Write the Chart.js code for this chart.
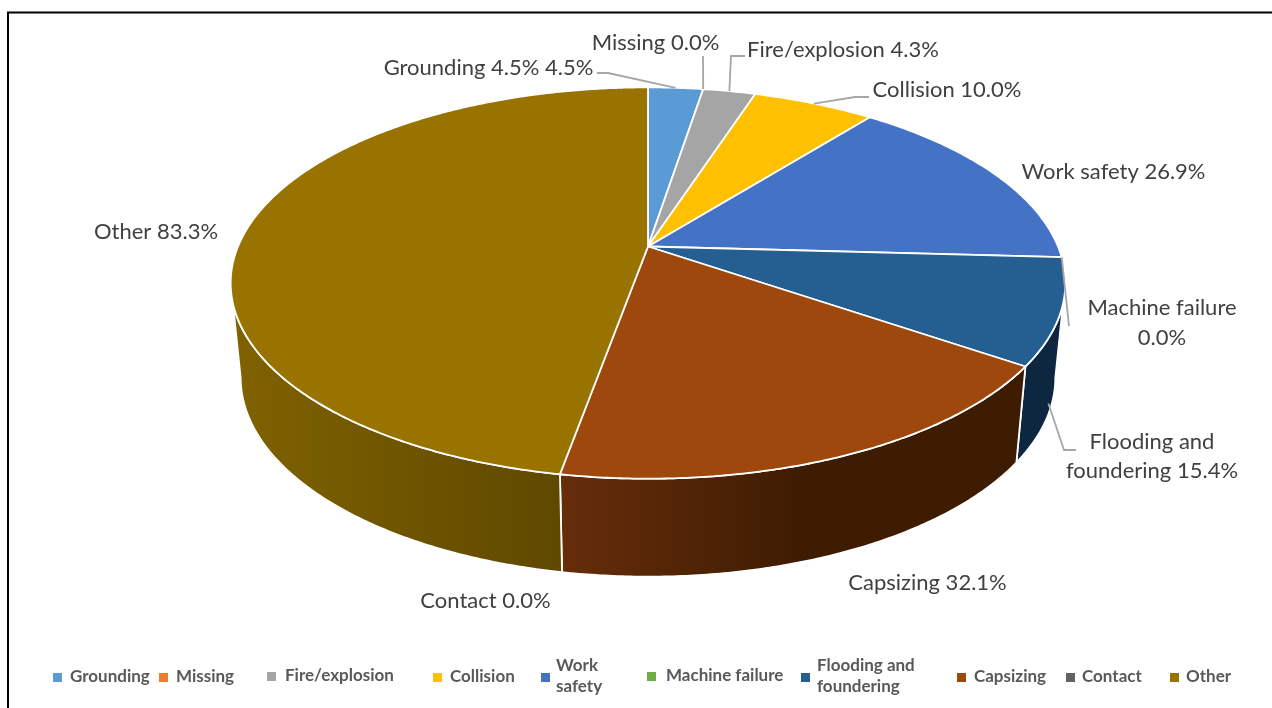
<!DOCTYPE html>
<html>
<head>
<meta charset="utf-8">
<style>html,body{margin:0;padding:0;background:#fff}canvas{display:block}</style>
<script src="https://cdn.jsdelivr.net/npm/chart.js@4/dist/chart.umd.js"></script>
</head>
<body>
<canvas id="c" width="1272" height="708"></canvas>
<script>
// ---- data ----
const categories = ['Grounding','Missing','Fire/explosion','Collision','Work safety','Machine failure','Flooding and foundering','Capsizing','Contact','Other'];
const percentValues = [4.5,0.0,4.3,10.0,26.9,0.0,15.4,32.1,0.0,83.3];
const sliceColors = ['#5b9bd5','#ed7d31','#a5a5a5','#ffc000','#4472c4','#70ad47','#255e91','#9e480e','#636363','#997300'];

// ---- layout / styles (not data) ----
const wallStyles = {
  'Flooding and foundering': [1016,'#0d2740',1064,'#0d2740'],
  'Capsizing': [562,'#662d0a',800,'#3e1c02'],
  'Other': [233,'#806200',560,'#5f4800']
};
const labelFont = '22px Lato';
const labelColor = '#404040';
const sliceLabels = [
  {lines:['Grounding 4.5% 4.5%'],x:488.5,y:[68]},
  {lines:['Missing 0.0%'],x:655.5,y:[43]},
  {lines:['Fire/explosion 4.3%'],x:843,y:[50]},
  {lines:['Collision 10.0%'],x:947,y:[90]},
  {lines:['Work safety 26.9%'],x:1113.5,y:[172]},
  {lines:['Machine failure','0.0%'],x:1162,y:[308,338]},
  {lines:['Flooding and','foundering 15.4%'],x:1152,y:[442,471]},
  {lines:['Capsizing 32.1%'],x:927.5,y:[583]},
  {lines:['Contact 0.0%'],x:485.5,y:[601]},
  {lines:['Other 83.3%'],x:156,y:[232]}
];
const leaderColor = '#a6a6a6';
// path: elbow points from the slice towards its label; wall = position down the side wall
const leaders = {
  0:{path:[[608,73],[597,73]]},
  1:{path:[[703,56]]},
  2:{path:[[731,56],[745,56]]},
  3:{path:[[855,97],[869,97]]},
  5:{path:[[1069,326]]},
  6:{wall:0.85,at:112,path:[[1064,450],[1076,450]]}
};
const legendEntries = [
  {sq:53,tx:70,lines:['Grounding'],y:[677]},
  {sq:159,tx:176,lines:['Missing'],y:[677]},
  {sq:267,tx:285,lines:['Fire/explosion'],y:[676]},
  {sq:433,tx:450,lines:['Collision'],y:[677]},
  {sq:541,tx:556,lines:['Work','safety'],y:[666,687],sqY:677},
  {sq:647,tx:666,lines:['Machine failure'],y:[676]},
  {sq:801,tx:817,lines:['Flooding and','foundering'],y:[666,687],sqY:677},
  {sq:957,tx:974,lines:['Capsizing'],y:[677]},
  {sq:1066,tx:1082,lines:['Contact'],y:[677]},
  {sq:1170,tx:1186,lines:['Other'],y:[677]}
];

// ---- perspective projection of the pie disc: t = clockwise degrees from 12 o'clock, z = 0 top, 1 bottom ----
const P = {cx:648, c:410, p:-0.1867, a:142.8, b:246.5, cShrink:0.024, aDrop:14.3, bDrop:94};
function project(t, z, r){
  r = r === undefined ? 1 : r;
  const rad = t*Math.PI/180, u = r*Math.sin(rad), v = -r*Math.cos(rad);
  const w = 1 + P.p*v;
  return [P.cx + P.c*(1-P.cShrink*z)*u/w, ((P.a-P.aDrop*z)*v + P.b + P.bDrop*z)/w];
}
const toDeg = a => (a + Math.PI/2)*180/Math.PI;
const VIS = {topR:106.6, topL:253.4, botR:100.8, botL:259.2};

// each arc element draws itself through the perspective projection
const ArcProto = Chart.registry.getElement('arc').prototype;
ArcProto.draw = function(ctx){
  const t0 = toDeg(this.startAngle), t1 = toDeg(this.endAngle);
  if (t1 - t0 < 1e-6) return;
  const o = this.options;
  ctx.save();
  ctx.beginPath();
  const c = project(0,0,0);
  ctx.moveTo(c[0],c[1]);
  for (let t=t0;;t+=0.5){
    const q = project(Math.min(t,t1),0);
    ctx.lineTo(q[0],q[1]);
    if (t>=t1) break;
  }
  ctx.closePath();
  ctx.fillStyle = o.backgroundColor;
  ctx.fill();
  ctx.strokeStyle = o.borderColor;
  ctx.lineWidth = o.borderWidth;
  ctx.lineJoin = 'round';
  ctx.stroke();
  ctx.restore();
};

const pie3d = {
  id:'pie3d',
  beforeDraw(chart){
    const ctx = chart.ctx;
    ctx.save();
    ctx.fillStyle = '#fff';
    ctx.fillRect(0,0,chart.width,chart.height);
    ctx.strokeStyle = '#000';
    ctx.lineWidth = 2;
    ctx.beginPath();
    ctx.moveTo(8,chart.height);
    ctx.lineTo(8,12.5);
    ctx.lineTo(chart.width,12.5);
    ctx.stroke();
    ctx.restore();
  },
  beforeDatasetsDraw(chart){
    const ctx = chart.ctx;
    const arcs = chart.getDatasetMeta(0).data;
    arcs.forEach((arc,i)=>{
      const style = wallStyles[categories[i]];
      if (!style) return;
      const t0 = toDeg(arc.startAngle), t1 = toDeg(arc.endAngle);
      const ta = Math.max(t0,VIS.topR), tb = Math.min(t1,VIS.topL);
      const ba = Math.max(t0,VIS.botR), bb = Math.min(t1,VIS.botL);
      ctx.save();
      ctx.beginPath();
      for (let t=ta;;t+=0.5){
        const q = project(Math.min(t,tb),0);
        ctx.lineTo(q[0],q[1]);
        if (t>=tb) break;
      }
      for (let t=bb;;t-=0.5){
        const q = project(Math.max(t,ba),1);
        ctx.lineTo(q[0],q[1]);
        if (t<=ba) break;
      }
      ctx.closePath();
      const g = ctx.createLinearGradient(style[0],0,style[2],0);
      g.addColorStop(0,style[1]);
      g.addColorStop(1,style[3]);
      ctx.fillStyle = g;
      ctx.fill();
      ctx.strokeStyle = '#fff';
      ctx.lineWidth = 1.8;
      ctx.lineJoin = 'round';
      ctx.stroke();
      ctx.restore();
    });
  },
  afterDatasetsDraw(chart){
    const ctx = chart.ctx;
    const arcs = chart.getDatasetMeta(0).data;
    ctx.save();
    // leader lines
    ctx.strokeStyle = leaderColor;
    ctx.lineWidth = 1.8;
    Object.keys(leaders).forEach(k=>{
      const l = leaders[k], arc = arcs[k];
      const t0 = toDeg(arc.startAngle), t1 = toDeg(arc.endAngle);
      let s;
      if (l.wall !== undefined){
        const a = project(l.at,0), b = project(l.at,1);
        s = [a[0]+(b[0]-a[0])*l.wall, a[1]+(b[1]-a[1])*l.wall];
      } else s = project((t0+t1)/2,0);
      ctx.beginPath();
      ctx.moveTo(s[0],s[1]);
      l.path.forEach(q=>ctx.lineTo(q[0],q[1]));
      ctx.stroke();
    });
    // slice labels
    ctx.fillStyle = labelColor;
    ctx.font = labelFont;
    ctx.textAlign = 'center';
    ctx.textBaseline = 'middle';
    sliceLabels.forEach(l=>l.lines.forEach((s,i)=>ctx.fillText(s,l.x,l.y[i])));
    // legend
    ctx.textAlign = 'left';
    ctx.font = 'bold 17px Lato';
    legendEntries.forEach((e,i)=>{
      ctx.fillStyle = sliceColors[i];
      ctx.fillRect(e.sq,(e.sqY||e.y[0])-4,9,9);
      ctx.fillStyle = '#595959';
      e.lines.forEach((s,j)=>ctx.fillText(s,e.tx,e.y[j]));
    });
    ctx.restore();
  }
};

new Chart(document.getElementById('c'),{
  type:'pie',
  data:{labels:categories,datasets:[{data:percentValues,backgroundColor:sliceColors,borderColor:'#ffffff',borderWidth:1.8}]},
  options:{
    responsive:false,
    animation:false,
    plugins:{legend:{display:false},tooltip:{enabled:false}}
  },
  plugins:[pie3d]
});
</script>
</body>
</html>
